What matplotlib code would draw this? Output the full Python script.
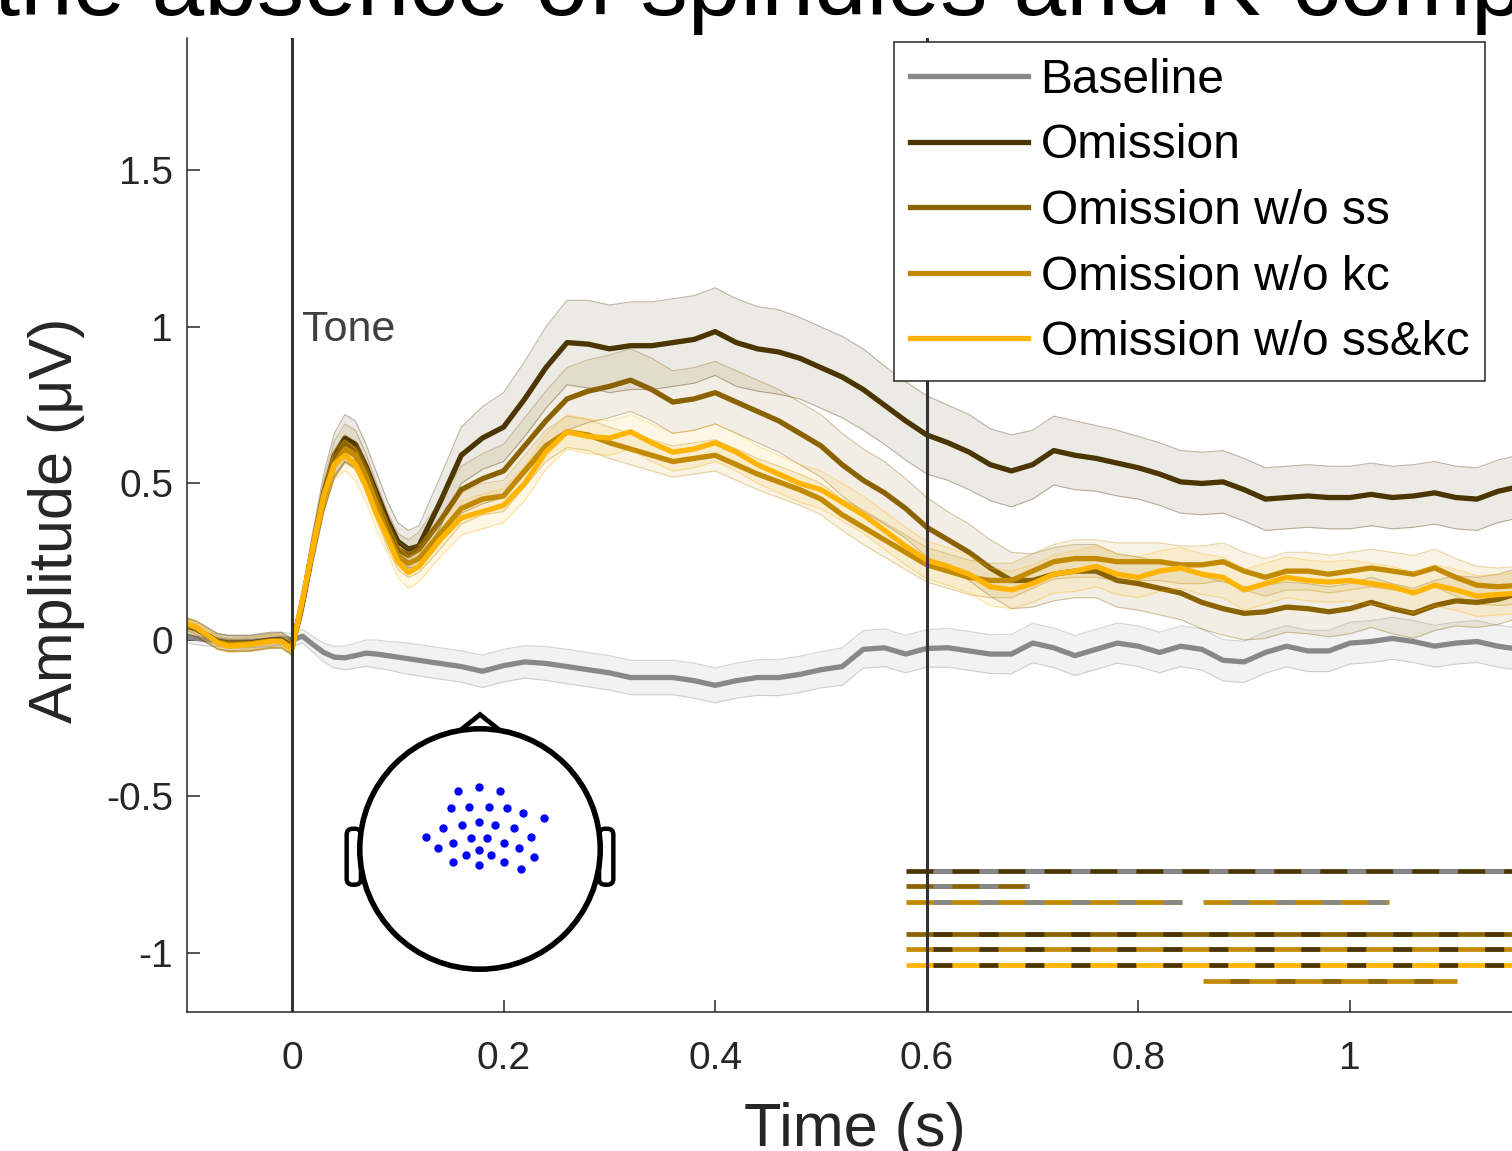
import matplotlib
matplotlib.use("agg")
import matplotlib.pyplot as plt
import numpy as np
from matplotlib.patches import Circle, Polygon, FancyBboxPatch

plt.rcParams['font.family'] = ['Liberation Sans', 'DejaVu Sans']
plt.rcParams['lines.scale_dashes'] = False

# time axis (s)
t = [-0.1, -0.09, -0.08, -0.07, -0.06, -0.04, -0.02, -0.01,
     0.0, 0.01, 0.02, 0.03, 0.04, 0.05, 0.06, 0.07, 0.08, 0.09, 0.1, 0.11, 0.12,
     0.14, 0.16, 0.18, 0.2, 0.22, 0.24, 0.26, 0.28, 0.3, 0.32,
     0.34, 0.36, 0.38, 0.4, 0.42, 0.44, 0.46, 0.48, 0.5, 0.52,
     0.54, 0.56, 0.58, 0.6, 0.62, 0.64, 0.66, 0.68, 0.7, 0.72,
     0.74, 0.76, 0.78, 0.8, 0.82, 0.84, 0.86, 0.88, 0.9, 0.92,
     0.94, 0.96, 0.98, 1.0, 1.02, 1.04, 1.06, 1.08, 1.1, 1.12,
     1.14, 1.16]

baseline = [0.01, 0.005, 0.0, 0.0, -0.005, -0.005, 0.0, 0.005,
            0.0, 0.012, -0.015, -0.04, -0.055, -0.057, -0.05, -0.042, -0.045, -0.05, -0.055, -0.06, -0.065,
            -0.075, -0.085, -0.10, -0.082, -0.07, -0.075, -0.085, -0.095, -0.105, -0.12,
            -0.12, -0.12, -0.13, -0.145, -0.13, -0.12, -0.12, -0.11, -0.095, -0.085,
            -0.03, -0.025, -0.045, -0.027, -0.025, -0.035, -0.045, -0.045, -0.01, -0.025,
            -0.05, -0.03, -0.01, -0.02, -0.04, -0.02, -0.03, -0.065, -0.07, -0.04,
            -0.02, -0.035, -0.035, -0.01, -0.005, 0.005, -0.005, -0.02, -0.01, -0.005,
            -0.02, -0.03]
baseline_se = [0.02, 0.02, 0.02, 0.02, 0.02, 0.02, 0.02, 0.02,
               0.02, 0.022, 0.025, 0.03, 0.035, 0.038, 0.04, 0.042, 0.045, 0.045, 0.048, 0.05, 0.05,
               0.05, 0.05, 0.052, 0.052, 0.052, 0.054, 0.055, 0.055, 0.055, 0.055,
               0.055, 0.055, 0.056, 0.056, 0.056, 0.057, 0.058, 0.058, 0.058, 0.06,
               0.06, 0.06, 0.06, 0.06, 0.062, 0.062, 0.062, 0.063, 0.063, 0.063,
               0.064, 0.064, 0.064, 0.065, 0.065, 0.065, 0.066, 0.066, 0.066, 0.066,
               0.066, 0.066, 0.066, 0.067, 0.067, 0.067, 0.067, 0.067, 0.067, 0.067,
               0.067, 0.067]

omission = [0.045, 0.035, 0.015, -0.005, -0.01, -0.01, 0.0, 0.0,
            -0.02, 0.12, 0.30, 0.47, 0.59, 0.645, 0.625, 0.555, 0.47, 0.385, 0.315, 0.29, 0.30,
            0.44, 0.59, 0.645, 0.68, 0.77, 0.87, 0.95, 0.945, 0.93, 0.94,
            0.94, 0.95, 0.96, 0.985, 0.95, 0.93, 0.92, 0.90, 0.87, 0.84,
            0.80, 0.75, 0.70, 0.655, 0.63, 0.60, 0.56, 0.54, 0.56, 0.605,
            0.59, 0.58, 0.565, 0.55, 0.53, 0.505, 0.50, 0.505, 0.48, 0.45,
            0.455, 0.46, 0.455, 0.455, 0.465, 0.455, 0.46, 0.47, 0.455, 0.45,
            0.475, 0.49]
omission_se = [0.025, 0.025, 0.025, 0.025, 0.025, 0.025, 0.025, 0.025,
               0.025, 0.04, 0.05, 0.06, 0.07, 0.075, 0.075, 0.07, 0.065, 0.06, 0.06, 0.06, 0.065,
               0.08, 0.09, 0.10, 0.11, 0.12, 0.13, 0.135, 0.14, 0.14, 0.14,
               0.14, 0.14, 0.14, 0.14, 0.14, 0.135, 0.135, 0.13, 0.13, 0.13,
               0.13, 0.125, 0.125, 0.125, 0.12, 0.12, 0.115, 0.115, 0.11, 0.11,
               0.11, 0.105, 0.105, 0.10, 0.10, 0.10, 0.10, 0.10, 0.10, 0.10,
               0.10, 0.10, 0.10, 0.10, 0.10, 0.10, 0.10, 0.10, 0.10, 0.10,
               0.10, 0.10]

omission_no_ss = [0.045, 0.035, 0.015, -0.005, -0.012, -0.012, -0.002, -0.002,
                  -0.025, 0.12, 0.30, 0.46, 0.58, 0.63, 0.61, 0.54, 0.45, 0.36, 0.29, 0.27, 0.29,
                  0.38, 0.48, 0.515, 0.54, 0.62, 0.70, 0.77, 0.795, 0.81, 0.83,
                  0.80, 0.76, 0.77, 0.79, 0.76, 0.73, 0.70, 0.66, 0.62, 0.56,
                  0.51, 0.47, 0.42, 0.36, 0.32, 0.28, 0.23, 0.19, 0.19, 0.21,
                  0.22, 0.22, 0.19, 0.18, 0.165, 0.15, 0.12, 0.10, 0.085, 0.09,
                  0.105, 0.10, 0.09, 0.10, 0.12, 0.10, 0.085, 0.11, 0.125, 0.12,
                  0.13, 0.15]
omission_no_ss_se = [0.025, 0.025, 0.025, 0.025, 0.025, 0.025, 0.025, 0.025,
                     0.025, 0.035, 0.045, 0.05, 0.055, 0.06, 0.06, 0.055, 0.05, 0.05, 0.05, 0.05, 0.055,
                     0.065, 0.075, 0.08, 0.085, 0.09, 0.095, 0.10, 0.10, 0.10, 0.10,
                     0.10, 0.10, 0.10, 0.10, 0.10, 0.10, 0.10, 0.10, 0.10, 0.10,
                     0.10, 0.10, 0.095, 0.095, 0.09, 0.09, 0.09, 0.09, 0.085, 0.085,
                     0.085, 0.085, 0.085, 0.085, 0.085, 0.085, 0.085, 0.085, 0.085, 0.085,
                     0.08, 0.08, 0.08, 0.08, 0.08, 0.08, 0.08, 0.08, 0.08, 0.08,
                     0.08, 0.08]

omission_no_kc = [0.05, 0.038, 0.015, -0.008, -0.015, -0.012, -0.003, -0.003,
                  -0.025, 0.125, 0.30, 0.45, 0.56, 0.61, 0.59, 0.52, 0.43, 0.34, 0.27, 0.245, 0.26,
                  0.34, 0.42, 0.45, 0.46, 0.54, 0.62, 0.665, 0.655, 0.63, 0.61,
                  0.59, 0.57, 0.58, 0.59, 0.56, 0.53, 0.505, 0.48, 0.45, 0.40,
                  0.36, 0.32, 0.28, 0.24, 0.22, 0.20, 0.19, 0.19, 0.22, 0.25,
                  0.26, 0.26, 0.25, 0.25, 0.25, 0.24, 0.24, 0.25, 0.22, 0.20,
                  0.22, 0.22, 0.21, 0.22, 0.23, 0.22, 0.21, 0.23, 0.20, 0.175,
                  0.17, 0.175]
omission_no_kc_se = [0.02, 0.02, 0.02, 0.02, 0.02, 0.02, 0.02, 0.02,
                     0.02, 0.03, 0.035, 0.04, 0.045, 0.045, 0.045, 0.045, 0.045, 0.045, 0.045, 0.045, 0.045,
                     0.05, 0.05, 0.05, 0.05, 0.05, 0.05, 0.05, 0.05, 0.05, 0.05,
                     0.05, 0.05, 0.05, 0.05, 0.05, 0.05, 0.05, 0.05, 0.05, 0.05,
                     0.055, 0.055, 0.055, 0.055, 0.055, 0.055, 0.055, 0.055, 0.055, 0.055,
                     0.06, 0.06, 0.06, 0.06, 0.06, 0.06, 0.06, 0.06, 0.06, 0.06,
                     0.06, 0.06, 0.06, 0.06, 0.06, 0.06, 0.06, 0.06, 0.06, 0.06,
                     0.06, 0.06]

omission_no_sskc = [0.055, 0.04, 0.015, -0.01, -0.02, -0.015, -0.005, -0.005,
                    -0.03, 0.13, 0.30, 0.46, 0.56, 0.59, 0.56, 0.49, 0.40, 0.33, 0.25, 0.215, 0.235,
                    0.32, 0.39, 0.41, 0.43, 0.50, 0.60, 0.665, 0.65, 0.645, 0.665,
                    0.63, 0.60, 0.61, 0.63, 0.60, 0.56, 0.53, 0.50, 0.48, 0.44,
                    0.40, 0.35, 0.30, 0.255, 0.235, 0.21, 0.17, 0.16, 0.18, 0.21,
                    0.22, 0.235, 0.21, 0.20, 0.22, 0.23, 0.21, 0.20, 0.16, 0.18,
                    0.20, 0.19, 0.185, 0.19, 0.18, 0.17, 0.15, 0.175, 0.16, 0.14,
                    0.145, 0.15]
omission_no_sskc_se = [0.02, 0.02, 0.02, 0.02, 0.02, 0.02, 0.02, 0.02,
                       0.02, 0.03, 0.035, 0.04, 0.045, 0.05, 0.05, 0.05, 0.05, 0.05, 0.05, 0.05, 0.05,
                       0.055, 0.055, 0.055, 0.055, 0.055, 0.055, 0.055, 0.055, 0.055, 0.055,
                       0.06, 0.06, 0.06, 0.06, 0.06, 0.06, 0.06, 0.06, 0.06, 0.06,
                       0.06, 0.06, 0.06, 0.06, 0.06, 0.06, 0.06, 0.06, 0.06, 0.06,
                       0.065, 0.065, 0.065, 0.065, 0.065, 0.065, 0.065, 0.065, 0.065, 0.065,
                       0.065, 0.065, 0.065, 0.065, 0.065, 0.065, 0.065, 0.065, 0.065, 0.065,
                       0.065, 0.065]

labels = ['Baseline', 'Omission', 'Omission w/o ss', 'Omission w/o kc', 'Omission w/o ss&kc']
colors = ['#888888', '#4B3500', '#8A6200', '#C18A00', '#FFB400']

# significance rows: (y, first colour index, second colour index, [(start, end), ...])
sig_y = [-0.738, -0.786, -0.837, -0.939, -0.987, -1.038, -1.089]
sig_pairs = [(1, 0), (2, 0), (3, 0), (2, 1), (3, 1), (4, 1), (3, 2)]
sig_spans = [[(0.58, 1.2)], [(0.58, 0.697)], [(0.58, 0.841), (0.861, 1.037)],
             [(0.58, 1.2)], [(0.58, 1.2)], [(0.58, 1.2)], [(0.861, 1.101)]]

# electrode positions on the head (unit radius)
elec_x = [-0.188, -0.008, 0.168, -0.246, -0.095, 0.076, 0.224, 0.364, 0.541,
          -0.308, -0.151, -0.008, 0.129, 0.283, 0.429, -0.451, -0.224, -0.078,
          0.059, 0.199, 0.328, -0.350, -0.008, -0.118, 0.095, 0.457, -0.230,
          -0.008, 0.202, 0.347]
elec_y = [0.487, 0.524, 0.487, 0.342, 0.356, 0.356, 0.342, 0.300, 0.261,
          0.179, 0.202, 0.230, 0.202, 0.179, 0.104, 0.104, 0.053, 0.092,
          0.092, 0.053, 0.011, 0.011, -0.011, -0.050, -0.050, -0.067, -0.106,
          -0.137, -0.106, -0.171]

W, H = 1512, 1151
fig = plt.figure(figsize=(W / 100, H / 100), dpi=100)
ax = fig.add_axes([187 / W, (H - 1012) / H, (1523 - 187) / W, (1012 - 38) / H])
axis_col = '#262626'

means = [baseline, omission, omission_no_ss, omission_no_kc, omission_no_sskc]
sems = [baseline_se, omission_se, omission_no_ss_se, omission_no_kc_se, omission_no_sskc_se]
tt = np.array(t)
for m, se, c, lab in zip(means, sems, colors, labels):
    m = np.array(m)
    se = np.array(se)
    ax.fill_between(tt, m - se, m + se, color=c, alpha=0.1, lw=0)
    ax.plot(tt, m - se, color=c, alpha=0.35, lw=0.8)
    ax.plot(tt, m + se, color=c, alpha=0.35, lw=0.8)
    ax.plot(tt, m, color=c, lw=3.8, label=lab)

ax.axvline(0, color='#333333', lw=2.2, zorder=4)
ax.axvline(0.6, color='#333333', lw=2.2, zorder=4)
ax.text(0.0095, 0.99, 'Tone', fontsize=31, color='#404040', ha='left', va='center')

on_pt, off_pt = 13.7, 19.4
for y, (a, b), spans in zip(sig_y, sig_pairs, sig_spans):
    for s, e in spans:
        ax.plot([s, e], [y, y], color=colors[a], lw=3.4, solid_capstyle='butt')
        ax.plot([s, e], [y, y], color=colors[b], lw=3.4, dash_capstyle='butt',
                linestyle=(on_pt, (on_pt, off_pt)))

ax.set_xlim(-0.0992, 1.1635)
ax.set_ylim(-1.1885, 1.923)
ax.set_xticks([0, 0.2, 0.4, 0.6, 0.8, 1])
ax.set_xticklabels(['0', '0.2', '0.4', '0.6', '0.8', '1'])
ax.set_yticks([-1, -0.5, 0, 0.5, 1, 1.5])
ax.set_yticklabels(['-1', '-0.5', '0', '0.5', '1', '1.5'])
for side in ['top', 'right']:
    ax.spines[side].set_visible(False)
for side in ['left', 'bottom']:
    ax.spines[side].set_color(axis_col)
    ax.spines[side].set_linewidth(1.1)
ax.tick_params(direction='in', length=9, width=1.1, colors=axis_col, labelsize=28)
ax.tick_params(axis='y', pad=10)
ax.tick_params(axis='x', pad=21)

ax.set_xlabel('Time (s)', fontsize=44, color=axis_col, va='top')
ax.xaxis.set_label_coords(0.5, -0.092)
ax.set_ylabel('Amplitude (μV)', fontsize=44, color=axis_col)
ax.yaxis.set_label_coords(-0.076, 0.505)

leg = ax.legend(loc='upper right', bbox_to_anchor=(1485 / W, 1 - 42 / H),
                bbox_transform=fig.transFigure, fontsize=34.5, frameon=True,
                fancybox=False, edgecolor=axis_col, framealpha=1,
                handlelength=2.45, handletextpad=0.27, labelspacing=0.43,
                borderpad=0.33, borderaxespad=0)
leg.get_frame().set_linewidth(1.1)

fig.text(-6 / W, 1 - 15 / H, 'the absence of spindles and K-complexes',
         fontsize=68, ha='left', va='baseline', color='black')

# head inset
hx = fig.add_axes([330 / W, (H - 985) / H, 300 / W, 285 / H])
hx.set_xlim(-1.26, 1.26)
hx.set_ylim(-1.143, 1.252)
hx.axis('off')
for x0 in (-1.12, 1.0):
    hx.add_patch(FancyBboxPatch((x0, -0.30), 0.12, 0.47,
                                boxstyle='round,pad=0,rounding_size=0.05',
                                fc='white', ec='black', lw=3.2, zorder=1))
hx.add_patch(Polygon([(-0.2, 0.97), (0, 1.13), (0.2, 0.97)], closed=True,
                     fc='white', ec='black', lw=3.4, zorder=1))
hx.add_patch(Circle((0, 0), 1.01, fc='white', ec='black', lw=4, zorder=2))
hx.plot(elec_x, elec_y, 'o', color='#0000FF', ms=5, zorder=3)

fig.savefig('out.png', dpi=100)
